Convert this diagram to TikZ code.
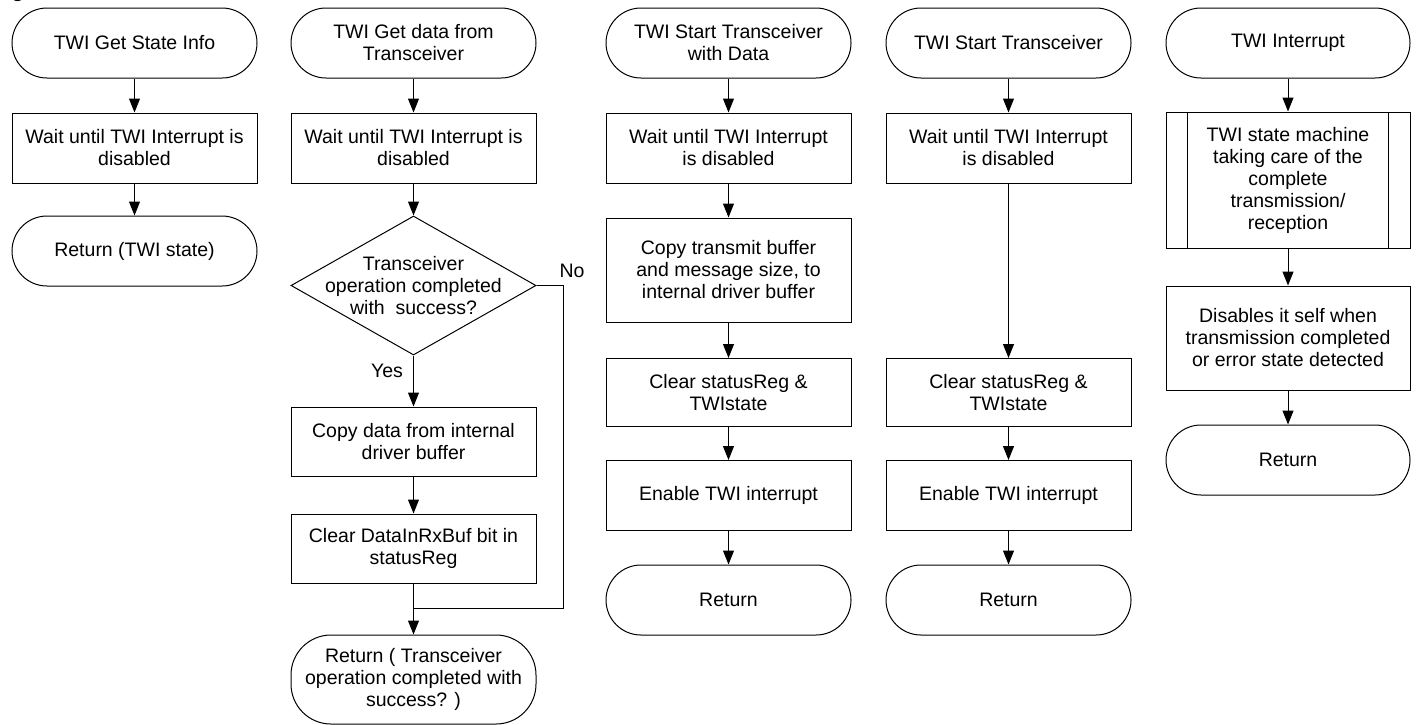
\documentclass[tikz,border=0pt]{standalone}
\usepackage{fontspec}
\setmainfont{Liberation Sans}
\usetikzlibrary{shapes.geometric,arrows.meta}

\tikzset{
  term/.style={draw, rectangle, rounded corners=35pt, minimum width=245pt, minimum height=70pt, inner sep=0pt, align=center},
  proc/.style={draw, rectangle, minimum width=245pt, minimum height=70pt, inner sep=0pt, align=center},
  decision/.style={draw, diamond, aspect=1.763, inner sep=-10pt, minimum width=245pt, minimum height=139pt, align=center},
  flow/.style={-{Triangle[width=11pt,length=14pt]}},
}

\begin{document}
\begin{tikzpicture}[x=1pt, y=1pt, line width=1pt, font=\fontsize{19.5}{22}\selectfont]
  \useasboundingbox (0,0) rectangle (1423,-724);
  \node[anchor=base west, font=\fontsize{19.5}{22}\selectfont\bfseries] (cap) at (8,3) {g};

  % Get State Info
  \node[term] (t1) at (134.5,-43) {TWI Get State Info};
  \node[proc] (w1) at (134.5,-148) {Wait until TWI Interrupt is\\disabled};
  \node[term] (r1) at (134.5,-251) {Return (TWI state)};
  \draw[flow] (t1) -- (w1);
  \draw[flow] (w1) -- (r1);

  % Get data from Transceiver
  \node[term] (t2) at (413.5,-43) {TWI Get data from\\Transceiver};
  \node[proc] (w2) at (413.5,-148) {Wait until TWI Interrupt is\\disabled};
  \node[decision] (dec) at (413.5,-285.5) {Transceiver\\operation completed\\with\ \ success?};
  \node[proc, minimum height=69pt] (c2a) at (413.5,-441.5) {Copy data from internal\\driver buffer};
  \node[proc, minimum height=69pt] (c2b) at (413.5,-548.5) {Clear DataInRxBuf bit in\\statusReg};
  \node[term, minimum height=89pt, rounded corners=40pt] (r2) at (413.5,-679.5) {Return ( Transceiver\\operation completed with\\success? )};
  \coordinate (join) at (413.5,-608);
  \node (yes) at (387,-371) {Yes};
  \node (no) at (572,-271) {No};
  \draw[flow] (t2) -- (w2);
  \draw[flow] (w2) -- (dec);
  \draw[flow] (dec) -- (c2a);
  \draw[flow] (c2a) -- (c2b);
  \draw[flow] (c2b) -- (r2);
  \draw (dec.east) -- (563,-285.5) -- (563,-608) -- (join);

  % Start Transceiver with Data
  \node[term] (t3) at (728.5,-43) {TWI Start Transceiver\\with Data};
  \node[proc] (w3) at (728.5,-148) {Wait until TWI Interrupt\\is disabled};
  \node[proc, minimum height=104pt] (cp3) at (728.5,-270) {Copy transmit buffer\\and message size, to\\internal driver buffer};
  \node[proc, minimum height=68pt] (cl3) at (728.5,-392.5) {Clear statusReg \&\\TWIstate};
  \node[proc] (en3) at (728.5,-495.5) {Enable TWI interrupt};
  \node[term] (r3) at (728.5,-600) {Return};
  \draw[flow] (t3) -- (w3);
  \draw[flow] (w3) -- (cp3);
  \draw[flow] (cp3) -- (cl3);
  \draw[flow] (cl3) -- (en3);
  \draw[flow] (en3) -- (r3);

  % Start Transceiver
  \node[term] (t4) at (1008.5,-43) {TWI Start Transceiver};
  \node[proc] (w4) at (1008.5,-148) {Wait until TWI Interrupt\\is disabled};
  \node[proc, minimum height=68pt] (cl4) at (1008.5,-392.5) {Clear statusReg \&\\TWIstate};
  \node[proc] (en4) at (1008.5,-495.5) {Enable TWI interrupt};
  \node[term] (r4) at (1008.5,-600) {Return};
  \draw[flow] (t4) -- (w4);
  \draw[flow] (w4) -- (cl4);
  \draw[flow] (cl4) -- (en4);
  \draw[flow] (en4) -- (r4);

  % Interrupt
  \node[term, minimum width=244pt] (t5) at (1288,-43) {TWI Interrupt};
  \node[proc, minimum width=244pt, minimum height=136pt] (sm5) at (1288,-180) {TWI state machine\\taking care of the\\complete\\transmission/\\reception};
  \draw ([xshift=22pt]sm5.north west) -- ([xshift=22pt]sm5.south west);
  \draw ([xshift=-22pt]sm5.north east) -- ([xshift=-22pt]sm5.south east);
  \node[proc, minimum width=244pt, minimum height=104pt] (ds5) at (1288,-338) {Disables it self when\\transmission completed\\or error state detected};
  \node[term, minimum width=244pt] (r5) at (1288,-460) {Return};
  \draw[flow] (t5) -- (sm5);
  \draw[flow] (sm5) -- (ds5);
  \draw[flow] (ds5) -- (r5);
\end{tikzpicture}
\end{document}
